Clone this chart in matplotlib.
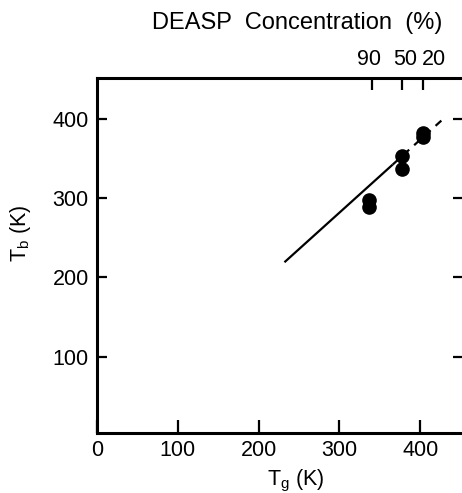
import matplotlib
matplotlib.use("Agg")
import matplotlib.pyplot as plt
import matplotlib.transforms as mtransforms

plt.rcParams["font.family"] = ["Liberation Sans", "DejaVu Sans"]
plt.rcParams["mathtext.default"] = "regular"

# measured points (T_g, T_b) in K
tg = [337, 337, 377, 377, 403, 403]
tb = [297, 288, 353, 337, 382, 377]

# fitted line: solid part then dashed extrapolation
fit_solid_x = [232, 366]
fit_solid_y = [219, 342]
fit_dash_x = [366, 428]
fit_dash_y = [342, 399]

# top axis: DEASP concentration at matching T_g
conc_pos = [340, 378, 404]
conc_label_pos = [337, 381, 417]
conc_labels = ["90", "50", "20"]

fig = plt.figure(figsize=(4.62, 4.93), dpi=100)
ax = fig.add_axes([97 / 462, 60 / 493, 366 / 462, 355 / 493])

ax.plot(fit_solid_x, fit_solid_y, color="black", lw=1.6, solid_capstyle="butt")
ax.plot(fit_dash_x, fit_dash_y, color="black", lw=1.6, dashes=(3.5, 3))
ax.plot(tg, tb, "o", color="black", ms=9.5, zorder=3)

ax.set_xlim(0, 453)
ax.set_ylim(4, 451)
ax.set_xticks([0, 100, 200, 300, 400])
ax.set_yticks([100, 200, 300, 400])
for s in ax.spines.values():
    s.set_linewidth(2.2)
ax.tick_params(direction="in", width=1.6, labelsize=15.5, right=True, top=False)
ax.tick_params(axis="x", length=9.5, pad=5)
ax.tick_params(axis="y", length=7, pad=6)
ax.set_xlabel("T$_g$ (K)", fontsize=15.5)
ax.xaxis.set_label_coords(0.544, -0.098)
ax.set_ylabel("T$_b$ (K)", fontsize=15.5)
ax.yaxis.set_label_coords(-0.175, 0.563)

ax2 = ax.twiny()
ax2.set_xlim(ax.get_xlim())
ax2.set_xticks(conc_pos)
ax2.set_xticklabels([])
ax2.tick_params(direction="in", length=8.5, width=1.6)
trans = mtransforms.blended_transform_factory(ax2.transData, ax2.transAxes)
for x, lab in zip(conc_label_pos, conc_labels):
    ax2.text(x, 1.022, lab, transform=trans, ha="center", va="bottom", fontsize=15.5)

fig.text(297 / 462, 470 / 493, "DEASP  Concentration  (%)", ha="center",
         va="center", fontsize=17)

fig.savefig("out.png", dpi=100)
